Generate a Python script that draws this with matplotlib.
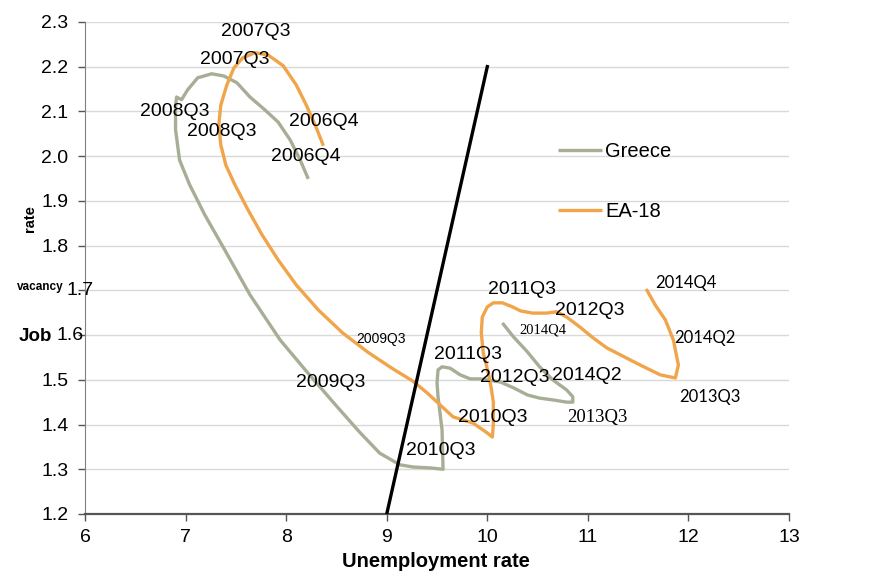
import matplotlib
matplotlib.use("Agg")
import matplotlib.pyplot as plt
from matplotlib.transforms import blended_transform_factory

plt.rcParams['font.family'] = ['Liberation Sans', 'DejaVu Sans']

# Beveridge curves: unemployment rate (x) vs job vacancy rate (y)
greece_u = [8.22, 8.14, 8.04, 7.92, 7.79, 7.64, 7.51, 7.38, 7.26, 7.12, 7.02, 6.96,
            6.91, 6.90, 6.90, 6.94, 7.04, 7.19, 7.39, 7.64, 7.94, 8.19, 8.49, 8.73,
            8.93, 9.13, 9.26, 9.43, 9.56, 9.55, 9.51, 9.50, 9.51, 9.55, 9.63, 9.73,
            9.83, 9.93, 10.13, 10.26, 10.40, 10.52, 10.65, 10.79, 10.85, 10.85,
            10.79, 10.65, 10.52, 10.40, 10.26, 10.15]
greece_v = [1.949, 1.991, 2.036, 2.076, 2.103, 2.132, 2.164, 2.179, 2.184, 2.175, 2.148, 2.126,
            2.132, 2.112, 2.059, 1.991, 1.936, 1.869, 1.790, 1.690, 1.589, 1.522, 1.444, 1.383,
            1.336, 1.310, 1.305, 1.303, 1.300, 1.388, 1.462, 1.493, 1.522, 1.529, 1.526, 1.511,
            1.502, 1.502, 1.495, 1.482, 1.466, 1.459, 1.455, 1.450, 1.450, 1.462,
            1.477, 1.500, 1.529, 1.562, 1.596, 1.627]

ea_u = [8.37, 8.30, 8.20, 8.10, 7.97, 7.82, 7.69, 7.57, 7.48, 7.41, 7.35, 7.33,
        7.35, 7.40, 7.49, 7.62, 7.76, 7.92, 8.10, 8.32, 8.56, 8.81, 9.05, 9.26,
        9.40, 9.53, 9.66, 9.86, 10.00, 10.05, 10.06, 10.06, 10.04, 10.01, 9.96, 9.94,
        9.95, 10.00, 10.06, 10.15, 10.25, 10.33, 10.45, 10.59, 10.69, 10.79, 10.92,
        11.05, 11.19, 11.32, 11.52, 11.72, 11.87, 11.90, 11.85, 11.77, 11.67, 11.58]
ea_v = [2.023, 2.063, 2.114, 2.159, 2.202, 2.226, 2.231, 2.220, 2.197, 2.159, 2.114, 2.070,
        2.025, 1.980, 1.936, 1.880, 1.824, 1.768, 1.712, 1.656, 1.605, 1.562, 1.526, 1.497,
        1.471, 1.444, 1.417, 1.403, 1.381, 1.372, 1.400, 1.450, 1.480, 1.515, 1.560, 1.605,
        1.640, 1.663, 1.672, 1.672, 1.663, 1.654, 1.649, 1.649, 1.652, 1.640, 1.618,
        1.594, 1.571, 1.556, 1.533, 1.511, 1.504, 1.533, 1.589, 1.634, 1.667, 1.703]

ref_u = [9.0, 10.0]
ref_v = [1.2, 2.2]

# quarter labels: text, x, y, font family, size
labels = [
    ("2007Q3", 7.70, 2.278, 'Liberation Sans', 14),
    ("2007Q3", 7.49, 2.217, 'Liberation Sans', 14),
    ("2008Q3", 6.89, 2.099, 'Liberation Sans', 14),
    ("2008Q3", 7.36, 2.054, 'Liberation Sans', 14),
    ("2006Q4", 8.37, 2.077, 'Liberation Sans', 14),
    ("2006Q4", 8.20, 2.000, 'Liberation Sans', 14),
    ("2009Q3", 8.94, 1.591, 'Liberation Sans', 10),
    ("2009Q3", 8.44, 1.493, 'Liberation Sans', 14),
    ("2011Q3", 10.34, 1.701, 'Liberation Sans', 14),
    ("2012Q3", 11.02, 1.654, 'Liberation Sans', 14),
    ("2014Q4", 10.55, 1.611, 'Liberation Serif', 10.5),
    ("2014Q4", 11.97, 1.716, 'Lato', 12),
    ("2014Q2", 12.16, 1.594, 'Lato', 12),
    ("2011Q3", 9.81, 1.556, 'Liberation Sans', 14),
    ("2012Q3", 10.27, 1.506, 'Liberation Sans', 14),
    ("2014Q2", 10.99, 1.509, 'Liberation Sans', 14),
    ("2010Q3", 10.05, 1.415, 'Liberation Sans', 14),
    ("2013Q3", 11.09, 1.415, 'Liberation Serif', 13.5),
    ("2013Q3", 12.21, 1.462, 'Lato', 12),
    ("2010Q3", 9.54, 1.341, 'Liberation Sans', 14),
]

x_ticks = [6, 7, 8, 9, 10, 11, 12, 13]
y_ticks = [1.2, 1.3, 1.4, 1.5, 1.6, 1.7, 1.8, 1.9, 2.0, 2.1, 2.2, 2.3]
# tick labels that sit shifted right next to the axis-title words (axes-x of right edge)
shifted_ticks = {1.7: 0.0128, 1.6: -0.0014}

fig = plt.figure(figsize=(8.73, 5.85), dpi=100)
ax = fig.add_axes([0.0974, 0.1214, 0.8064, 0.8412])

ax.plot(greece_u, greece_v, color='#a6af95', lw=2.4, solid_joinstyle='round',
        solid_capstyle='butt', label='Greece', zorder=3)
ax.plot(ea_u, ea_v, color='#f0a54a', lw=2.4, solid_joinstyle='round',
        solid_capstyle='butt', label='EA-18', zorder=3)
ax.plot(ref_u, ref_v, color='black', lw=2.4, zorder=4)

for txt, x, y, fam, size in labels:
    ax.text(x, y, txt, ha='center', va='center', fontsize=size,
            family=[fam, 'DejaVu Sans'], zorder=5)

ax.set_xlim(6, 13)
ax.set_ylim(1.2, 2.3)
ax.set_xticks(x_ticks)
ax.set_yticks(y_ticks)
ax.set_yticklabels(['' if v in shifted_ticks else f"{v:.1f}" for v in y_ticks])
ax.tick_params(axis='both', labelsize=14, colors='#555555', labelcolor='black',
               length=5, width=1)
ax.tick_params(axis='y', pad=7)
ax.tick_params(axis='x', pad=6)

trans = blended_transform_factory(ax.transAxes, ax.transData)
for v, xr in shifted_ticks.items():
    ax.text(xr, v, f"{v:.1f}", transform=trans, ha='right', va='center',
            fontsize=14, clip_on=False)

ax.grid(axis='y', color='#d9d9d9', lw=1)
ax.set_axisbelow(True)
for s in ['top', 'right']:
    ax.spines[s].set_visible(False)
ax.spines['left'].set_color('#808080')
ax.spines['bottom'].set_color('#555555')
ax.spines['bottom'].set_linewidth(1.6)

ax.set_xlabel("Unemployment rate", fontsize=14.5, fontweight='bold')
ax.xaxis.set_label_coords(0.4986, -0.077)

fig.text(0.034, 0.627, "rate", rotation=90, fontsize=10.5, fontweight='bold',
         ha='center', va='center')
fig.text(0.046, 0.509, "vacancy", fontsize=8.5, fontweight='bold',
         ha='center', va='center')
fig.text(0.040, 0.424, "Job", fontsize=13.5, fontweight='bold',
         ha='center', va='center')

ax.legend(loc='upper left', bbox_to_anchor=(0.672, 0.755), frameon=False,
          fontsize=14.5, handlelength=2.2, handletextpad=0.15, labelspacing=2.0,
          borderaxespad=0, borderpad=0)

fig.savefig("out.png", dpi=100)
